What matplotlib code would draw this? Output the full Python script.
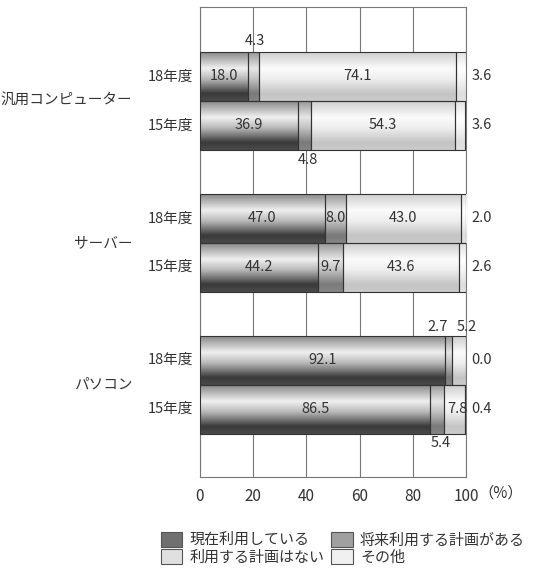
import matplotlib
matplotlib.use("Agg")
import matplotlib.pyplot as plt
import numpy as np
from matplotlib.colors import LinearSegmentedColormap
from matplotlib.patches import Patch

plt.rcParams['font.family'] = ['Noto Sans CJK JP', 'DejaVu Sans']

# data (%)
groups = ['汎用コンピューター', 'サーバー', 'パソコン']
years = ['18年度', '15年度']
series = ['現在利用している', '将来利用する計画がある', '利用する計画はない', 'その他']
using_now = [[18.0, 36.9], [47.0, 44.2], [92.1, 86.5]]
plan_future = [[4.3, 4.8], [8.0, 9.7], [2.7, 5.4]]
no_plan = [[74.1, 54.3], [43.0, 43.6], [5.2, 7.8]]
other = [[3.6, 3.6], [2.0, 2.6], [0.0, 0.4]]
values = [using_now, plan_future, no_plan, other]

# label placement overrides: (group, year, series) -> (x, y offset from group centre)
label_pos = {
    (0, 0, 1): (20.7, -0.42),
    (0, 1, 1): (40.6, 0.415),
    (2, 0, 1): (89.5, -0.405),
    (2, 0, 2): (100.4, -0.405),
    (2, 1, 1): (90.6, 0.41),
    (2, 1, 2): (96.8, 0.1725),
}

# cylinder-like gradients, top -> highlight -> dark bottom
grads = [
    [(0, '#8a8a8a'), (0.33, '#f0f0f0'), (0.55, '#b8b8b8'), (0.85, '#3a3a3a'), (1, '#4a4a4a')],
    [(0, '#9a9a9a'), (0.33, '#e6e6e6'), (0.55, '#c2c2c2'), (0.85, '#7a7a7a'), (1, '#858585')],
    [(0, '#cfcfcf'), (0.33, '#fbfbfb'), (0.55, '#eeeeee'), (0.85, '#c4c4c4'), (1, '#cacaca')],
    [(0, '#e2e2e2'), (0.33, '#ffffff'), (0.55, '#f6f6f6'), (0.85, '#dedede'), (1, '#e2e2e2')],
]
cmaps = [LinearSegmentedColormap.from_list('g%d' % i, c) for i, c in enumerate(grads)]
flat = ['#707070', '#a0a0a0', '#e0e0e0', '#f0f0f0']

fig = plt.figure(figsize=(5.38, 5.69), dpi=100)
ax = fig.add_axes([200 / 538, 1 - 477 / 569, 266 / 538, 470 / 569])

h = 0.345
off = [-h / 2, h / 2]
grad = np.linspace(0, 1, 64).reshape(-1, 1)

for g in range(len(groups)):
    for yi in range(len(years)):
        yc = g + off[yi]
        left = 0
        for s in range(len(series)):
            v = values[s][g][yi]
            bar = ax.barh(yc, v, left=left, height=h, facecolor='none',
                          edgecolor='#333333', linewidth=0.8, zorder=4)[0]
            if v > 0:
                x0, y0 = bar.get_x(), bar.get_y()
                ax.imshow(grad, cmap=cmaps[s], aspect='auto', interpolation='bilinear',
                          extent=[x0, x0 + bar.get_width(), y0 + bar.get_height(), y0],
                          zorder=3)
            # value label
            key = (g, yi, s)
            if key in label_pos:
                lx, dy = label_pos[key]
                ax.text(lx, g + dy, f'{v:.1f}', ha='center', va='center',
                        fontsize=10.5, color='#333333', zorder=5)
            elif s == 3:
                ax.text(102, yc, f'{v:.1f}', ha='left', va='center',
                        fontsize=10.5, color='#333333', zorder=5, clip_on=False)
            else:
                ax.text(left + v / 2, yc, f'{v:.1f}', ha='center', va='center',
                        fontsize=10.5, color='#333333', zorder=5)
            left += v

ax.set_xlim(0, 100)
ax.set_ylim(2.651, -0.662)
ax.set_xticks([0, 20, 40, 60, 80, 100])
ax.set_xticklabels(['0', '20', '40', '60', '80', '100'], fontsize=11, color='#333333')
ax.tick_params(axis='x', length=0, pad=8)
ax.set_yticks([])
ax.grid(axis='x', color='#777777', linewidth=0.8, zorder=0)
ax.set_axisbelow(True)
for sp in ax.spines.values():
    sp.set_color('#777777')
    sp.set_linewidth(0.8)

ax.text(1.045, -0.035, '（%）', transform=ax.transAxes, ha='left', va='center',
        fontsize=11, color='#333333')

# year and category labels
for g, name in enumerate(groups):
    ax.text(-0.255, g, name, transform=ax.get_yaxis_transform(), ha='right',
            va='center', fontsize=10.5, color='#333333')
    for yi, yr in enumerate(years):
        ax.text(-0.025, g + off[yi], yr, transform=ax.get_yaxis_transform(),
                ha='right', va='center', fontsize=10.5, color='#333333')

handles = [Patch(facecolor=flat[i], edgecolor='#555555', linewidth=0.8, label=series[i])
           for i in range(4)]
order = [0, 2, 1, 3]
fig.legend([handles[i] for i in order], [series[i] for i in order],
           loc='upper left', bbox_to_anchor=(150 / 538, 1 - 521 / 569), ncol=2,
           frameon=False, fontsize=10.8, handlelength=1.45, handleheight=1.2,
           handletextpad=0.5, columnspacing=0.4, labelspacing=0.12,
           labelcolor='#333333', borderpad=0.2)

fig.savefig('out.png', dpi=100, facecolor='white')
